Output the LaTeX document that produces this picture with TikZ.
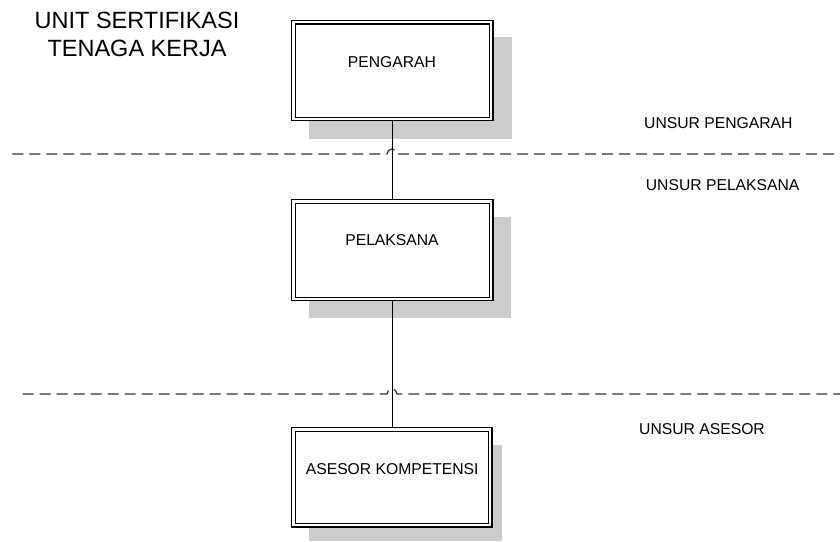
\documentclass[tikz,border=0pt]{standalone}
\usepackage{fontspec}
\setmainfont{Liberation Sans}
\definecolor{shadowgray}{RGB}{204,204,204}
\definecolor{dashgray}{RGB}{50,50,50}
\begin{document}
\begin{tikzpicture}[x=1pt,y=-1pt,
  box/.style={draw=black, line width=1.2pt, double=white, double distance=2.3pt,
    minimum width=198pt, minimum height=97pt, inner sep=0pt},
  boxtext/.style={font=\fontsize{15.7}{18}\selectfont, inner sep=0pt, anchor=base},
  unsur/.style={font=\fontsize{15.7}{18}\selectfont, inner sep=0pt, anchor=base west},
  shadow/.style={fill=shadowgray},
  divider/.style={draw=dashgray, line width=1.2pt, dash pattern=on 11pt off 6pt},
  link/.style={draw=black, line width=1pt, shorten <=1.75pt, shorten >=1.75pt}]
\useasboundingbox (0,0) rectangle (840,541);

% drop shadows behind the boxes
\fill[shadow] (309,37.3) rectangle (511.7,139);
\fill[shadow] (309,216.7) rectangle (511,318.3);
\fill[shadow] (309,445) rectangle (502,541);

% title (base anchor sits on the last line)
\node[align=center, font=\fontsize{23.5}{27.7}\selectfont, inner sep=0pt, anchor=base]
  (title) at (137,56) {UNIT SERTIFIKASI\\TENAGA KERJA};

% dividing lines with a hop over the vertical connector
\coordinate (d1w) at (12.3,154);
\coordinate (d1h) at (387,154);
\coordinate (d1e) at (835,154);
\coordinate (d2w) at (22.7,394);
\coordinate (d2h) at (387,394);
\coordinate (d2e) at (840,394);
\draw[divider] (d1w) -- (d1h) arc[start angle=180, end angle=0, radius=5, y radius=-5] -- (d1e);
\draw[divider] (d2w) -- (d2h) arc[start angle=180, end angle=0, radius=5, y radius=-5] -- (d2e);

% boxes
\node[box, fill=white, minimum width=197.7pt, minimum height=96.7pt] (pengarah) at (392.4,70.5) {};
\node[box, fill=white, minimum width=197.7pt, minimum height=97.5pt] (pelaksana) at (392.4,250.1) {};
\node[box, fill=white, minimum width=196.8pt, minimum height=95.8pt] (asesor) at (391.9,477.3) {};

\node[boxtext] (tpengarah) at (392,67.3) {PENGARAH};
\node[boxtext] (tpelaksana) at (392,245) {PELAKSANA};
\node[boxtext] (tasesor) at (392.2,474) {ASESOR KOMPETENSI};

% connectors
\draw[link] (pengarah.south -| 392,0) -- (pelaksana.north -| 392,0);
\draw[link] (pelaksana.south -| 392,0) -- (asesor.north -| 392,0);

% level labels
\node[unsur] (upengarah) at (644,128.3) {UNSUR PENGARAH};
\node[unsur] (upelaksana) at (645.7,190) {UNSUR PELAKSANA};
\node[unsur] (uasesor) at (639,434) {UNSUR ASESOR};
\end{tikzpicture}
\end{document}
